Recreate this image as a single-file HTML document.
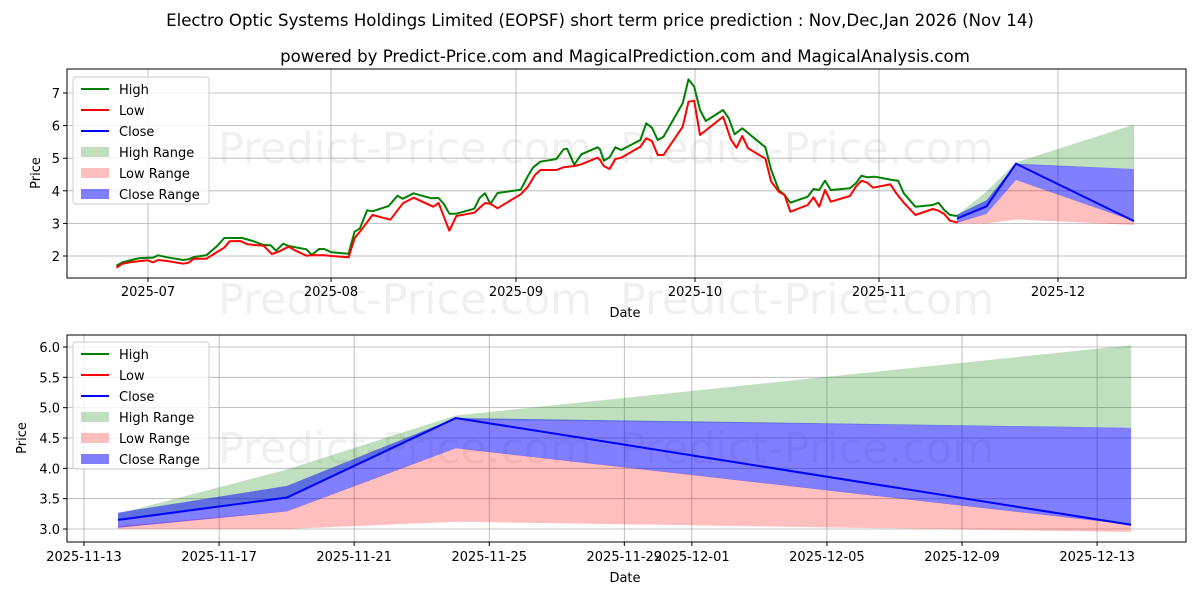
<!DOCTYPE html>
<html><head><meta charset="utf-8"><style>
body{margin:0;background:#fff}
svg{display:block;font-family:"DejaVu Sans","Liberation Sans",sans-serif}
.t{font-size:13px;fill:#000}
.wm{font-size:43px;fill:#000;fill-opacity:0.06}
.g{stroke:#b0b0b0;stroke-width:0.8}
</style></head><body>
<svg id="s" width="1200" height="600" xmlns="http://www.w3.org/2000/svg">
<rect width="1200" height="600" fill="#fff"/>
<text x="600" y="26" text-anchor="middle" font-size="16.6">Electro Optic Systems Holdings Limited (EOPSF) short term price prediction : Nov,Dec,Jan 2026 (Nov 14)</text>
<text x="625" y="62" text-anchor="middle" font-size="16.6">powered by Predict-Price.com and MagicalPrediction.com and MagicalAnalysis.com</text>

<text class="wm" x="218" y="163">Predict-Price.com</text>
<text class="wm" x="620" y="163">Predict-Price.com</text>
<text class="wm" x="218" y="314">Predict-Price.com</text>
<text class="wm" x="620" y="314">Predict-Price.com</text>
<text class="wm" x="218" y="463">Predict-Price.com</text>
<text class="wm" x="620" y="463">Predict-Price.com</text>

<g id="gtop"></g>
<g id="gbot"></g>

<text class="t" x="625" y="317" text-anchor="middle">Date</text>
<text class="t" x="625" y="582" text-anchor="middle">Date</text>
<text class="t" transform="translate(40,173) rotate(-90)" text-anchor="middle">Price</text>
<text class="t" transform="translate(26,438) rotate(-90)" text-anchor="middle">Price</text>
</svg>
<script>
(function(){
const NS="http://www.w3.org/2000/svg";
function el(p,tag,a,txt){const e=document.createElementNS(NS,tag);for(const k in a)e.setAttribute(k,a[k]);if(txt!==undefined)e.textContent=txt;p.appendChild(e);return e;}
const gT=document.getElementById('gtop'),gB=document.getElementById('gbot');
const TL=67,TR=1186,TT=69,TB=278;
const yT=v=>256-(v-2)*32.6;
[148,331,516,695,879,1058].forEach((x,i)=>{el(gT,'line',{x1:x,x2:x,y1:TT,y2:TB,class:'g'});el(gT,'line',{x1:x,x2:x,y1:TB,y2:TB+4,stroke:'#000'});el(gT,'text',{x:x,y:TB+18,class:'t','text-anchor':'middle'},['2025-07','2025-08','2025-09','2025-10','2025-11','2025-12'][i]);});
[2,3,4,5,6,7].forEach(v=>{const y=yT(v);el(gT,'line',{x1:TL,x2:TR,y1:y,y2:y,class:'g'});el(gT,'line',{x1:TL-4,x2:TL,y1:y,y2:y,stroke:'#000'});el(gT,'text',{x:TL-7,y:y+5,class:'t','text-anchor':'end'},String(v));});
const z1=p=>p.map(([a,b])=>[a/2.8+60,b/3+60]);
const z2=p=>p.map(([a,b])=>[a/2.6+600,b/3+60]);
const H1=[[158,617],[175,607],[200,600],[220,595],[245,593],[260,593],[275,586],[300,592],[345,600],[360,598],[375,591],[410,586],[440,558],[460,534],[480,534],[510,534],[540,543],[570,555],[590,556],[605,572],[625,551],[640,558],[690,568],[705,585],[725,567],[740,567],[760,577],[808,581],[825,515],[840,505],[860,451],[875,454],[920,438],[945,407],[960,416],[990,400],[1040,415],[1060,414],[1075,432],[1090,461],[1110,461],[1160,446],[1175,414],[1190,400],[1205,432],[1225,399],[1290,389],[1310,348],[1325,322],[1345,305],[1390,297],[1410,268],[1420,266],[1440,314],[1460,283],[1505,262]];
const L1=[[158,623],[175,611],[200,606],[220,604],[245,601],[260,607],[275,600],[300,603],[345,611],[360,608],[375,596],[410,596],[440,576],[460,563],[475,544],[505,543],[525,553],[570,557],[580,568],[593,582],[610,576],[640,560],[660,572],[690,587],[705,586],[740,586],[760,588],[808,592],[825,535],[845,508],[875,465],[925,479],[960,430],[990,413],[1045,440],[1060,429],[1090,512],[1110,468],[1160,458],[1190,429],[1205,431],[1225,445],[1290,403],[1310,380],[1330,345],[1345,330],[1390,330],[1410,322],[1440,318],[1460,313],[1505,293]];
const H2=[[0,268],[10,302],[25,292],[40,262],[55,270],[105,240],[120,190],[135,203],[150,240],[165,230],[215,130],[230,58],[245,80],[260,150],[275,183],[320,150],[335,175],[350,223],[370,205],[430,262],[445,330],[465,390],[480,405],[495,428],[540,410],[555,387],[570,390],[585,362],[600,390],[650,385],[665,370],[680,347],[695,352],[715,350],[760,360],[775,362],[790,400],[820,440],[865,435],[880,428],[895,450],[910,465],[930,468]];
const L2=[[0,300],[10,318],[25,327],[40,297],[55,293],[105,260],[120,235],[135,243],[150,285],[165,285],[215,200],[230,125],[245,122],[260,225],[320,170],[340,238],[355,263],[370,228],[385,265],[430,296],[445,365],[465,395],[480,405],[495,455],[540,435],[555,412],[570,440],[585,390],[600,425],[650,408],[665,380],[680,362],[695,368],[710,383],[755,373],[770,400],[790,428],[820,465],[865,447],[880,452],[895,462],[910,482],[930,488]];
const pts=a=>a.map(p=>p[0].toFixed(1)+','+p[1].toFixed(1)).join(' ');
const gU=[3.25,3.98,4.87,6.03],gL=[3.15,3.5,4.8,4.67];
const bU=[3.27,3.71,4.83,4.67],bL=[3.02,3.29,4.33,3.07];
const rU=[3.05,3.295,4.335,3.075],rL=[3.0,3.0,3.12,2.95];
const C=[3.15,3.52,4.83,3.07];
function band(g,xs,yf,U,L,fill){const a=xs.map((x,i)=>[x,yf(U[i])]),b=xs.map((x,i)=>[x,yf(L[i])]).reverse();el(g,'polygon',{points:pts(a.concat(b)),fill:fill,stroke:'none'});}
const xT=[957,986.5,1016,1134];
band(gT,xT,yT,gU,gL,'rgba(0,128,0,0.25)');
band(gT,xT,yT,rU,rL,'rgba(255,0,0,0.25)');
band(gT,xT,yT,bU,bL,'rgba(0,0,255,0.5)');
el(gT,'polyline',{points:pts(z1(H1).concat(z2(H2))),fill:'none',stroke:'#008000','stroke-width':2,'stroke-linejoin':'round'});
el(gT,'polyline',{points:pts(z1(L1).concat(z2(L2))),fill:'none',stroke:'#ff0000','stroke-width':2,'stroke-linejoin':'round'});
el(gT,'polyline',{points:pts(xT.map((x,i)=>[x,yT(C[i])])),fill:'none',stroke:'#0000ff','stroke-width':2});
el(gT,'rect',{x:TL,y:TT,width:TR-TL,height:TB-TT,fill:'none',stroke:'#000','stroke-width':1});
const BL=67,BR=1186,BT=335,BB=542;
const yB=v=>529-(v-3)*60.67;
const bl=['2025-11-13','2025-11-17','2025-11-21','2025-11-25','2025-11-29','2025-12-01','2025-12-05','2025-12-09','2025-12-13'];
[0,4,8,12,16,18,22,26,30].forEach((d,i)=>{const x=84+d*33.77;el(gB,'line',{x1:x,x2:x,y1:BT,y2:BB,class:'g'});el(gB,'line',{x1:x,x2:x,y1:BB,y2:BB+4,stroke:'#000'});el(gB,'text',{x:x,y:BB+19,class:'t','text-anchor':'middle'},bl[i]);});
[3,3.5,4,4.5,5,5.5,6].forEach(v=>{const y=yB(v);el(gB,'line',{x1:BL,x2:BR,y1:y,y2:y,class:'g'});el(gB,'line',{x1:BL-4,x2:BL,y1:y,y2:y,stroke:'#000'});el(gB,'text',{x:BL-7,y:y+5,class:'t','text-anchor':'end'},v.toFixed(1));});
const xB=[118,286.9,455.7,1131];
band(gB,xB,yB,gU,gL,'rgba(0,128,0,0.25)');
band(gB,xB,yB,rU,rL,'rgba(255,0,0,0.25)');
band(gB,xB,yB,bU,bL,'rgba(0,0,255,0.5)');
el(gB,'polyline',{points:pts(xB.map((x,i)=>[x,yB(C[i])])),fill:'none',stroke:'#0000ff','stroke-width':2});
el(gB,'rect',{x:BL,y:BT,width:BR-BL,height:BB-BT,fill:'none',stroke:'#000','stroke-width':1});
function legend(g,x0,y0){el(g,'rect',{x:x0,y:y0,width:136,height:127,rx:3,fill:'#fff','fill-opacity':0.8,stroke:'#ccc'});
const it=[['High','l','#008000'],['Low','l','#ff0000'],['Close','l','#0000ff'],['High Range','f','rgba(0,128,0,0.25)'],['Low Range','f','rgba(255,0,0,0.25)'],['Close Range','f','rgba(0,0,255,0.5)']];
it.forEach((e,i)=>{const y=y0+12+i*21;if(e[1]=='l')el(g,'line',{x1:x0+8,x2:x0+36,y1:y,y2:y,stroke:e[2],'stroke-width':2});else el(g,'rect',{x:x0+8,y:y-5,width:28,height:10,fill:e[2]});el(g,'text',{x:x0+46,y:y+5,class:'t'},e[0]);});}
legend(gT,73,77);legend(gB,73,342);
})();
</script>
</body></html>
